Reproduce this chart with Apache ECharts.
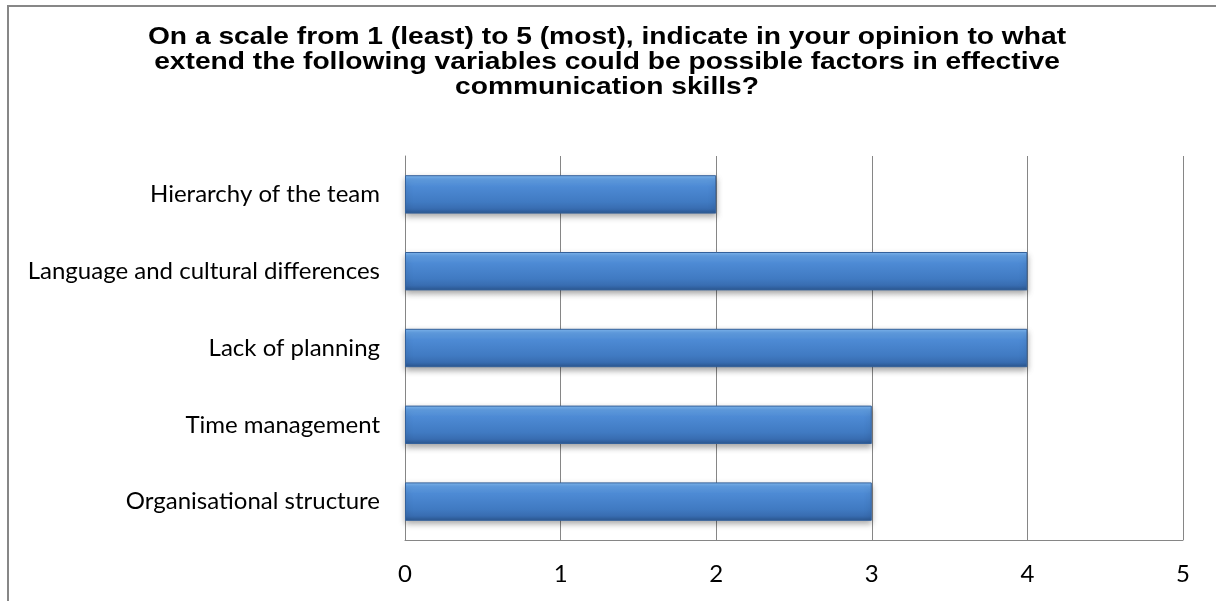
<!DOCTYPE html>
<html>
<head>
<meta charset="utf-8">
<script src="https://cdn.jsdelivr.net/npm/echarts@6/dist/echarts.min.js"></script>
<style>
  html, body { margin: 0; padding: 0; background: #fff; }
  #chart { width: 1216px; height: 601px; }
</style>
</head>
<body>
<div id="chart"></div>
<script>
// Survey question shown as the chart heading
const titleLines = [
  'On a scale from 1 (least) to 5 (most), indicate in your opinion to what',
  'extend the following variables could be possible factors in effective',
  'communication skills?'
];

// Factors, listed bottom to top as they appear on the category axis
const categories = [
  'Organisational structure',
  'Time management',
  'Lack of planning',
  'Language and cultural differences',
  'Hierarchy of the team'
];

// Rating for each factor
const ratings = [3, 3, 4, 4, 2];

// Value axis range and step
const axisMin = 0;
const axisMax = 5;
const axisStep = 1;

const chart = echarts.init(document.getElementById('chart'), null, { renderer: 'canvas' });

const barFill = new echarts.graphic.LinearGradient(0, 0, 0, 1, [
  { offset: 0.00, color: '#84bbf3' },
  { offset: 0.10, color: '#62a0e4' },
  { offset: 0.30, color: '#4d8ad4' },
  { offset: 0.70, color: '#407ac2' },
  { offset: 0.88, color: '#386cb0' },
  { offset: 1.00, color: '#2a568f' }
]);

chart.setOption({
  animation: false,
  backgroundColor: '#ffffff',
  graphic: [
    {
      // outer chart frame
      type: 'rect',
      shape: { x: 8, y: 6, width: 1300, height: 700 },
      style: { fill: 'none', stroke: '#878787', lineWidth: 2 },
      silent: true,
      z: -1
    },
    {
      // heading, set in a wide bold face
      type: 'text',
      x: 607,
      y: 25,
      scaleX: 1.175,
      style: {
        text: titleLines.join('\n'),
        x: 0,
        y: 0,
        textAlign: 'center',
        textVerticalAlign: 'top',
        font: 'bold 24px "Liberation Sans", Arial, sans-serif',
        lineHeight: 25,
        fill: '#000000'
      },
      silent: true
    }
  ],
  grid: {
    left: 405,
    right: 33,
    top: 156,
    bottom: 61,
    containLabel: false
  },
  xAxis: {
    type: 'value',
    min: axisMin,
    max: axisMax,
    interval: axisStep,
    axisLine: { show: true, lineStyle: { color: '#868686', width: 1 } },
    axisTick: { show: false },
    splitLine: { show: true, lineStyle: { color: '#868686', width: 1 } },
    axisLabel: {
      margin: 22,
      fontFamily: 'Lato, "Open Sans", sans-serif',
      fontSize: 24,
      color: '#000000'
    }
  },
  yAxis: {
    type: 'category',
    data: categories,
    axisLine: { show: true, lineStyle: { color: '#868686', width: 1 } },
    axisTick: { show: false },
    splitLine: { show: false },
    axisLabel: {
      margin: 25,
      fontFamily: 'Lato, "Open Sans", sans-serif',
      fontSize: 24,
      color: '#000000'
    }
  },
  series: [{
    type: 'bar',
    data: ratings,
    barWidth: '50%',
    itemStyle: {
      color: barFill,
      borderColor: '#34619b',
      borderWidth: 1,
      shadowColor: 'rgba(0,0,0,0.35)',
      shadowBlur: 6,
      shadowOffsetY: 3
    }
  }]
});
</script>
</body>
</html>
